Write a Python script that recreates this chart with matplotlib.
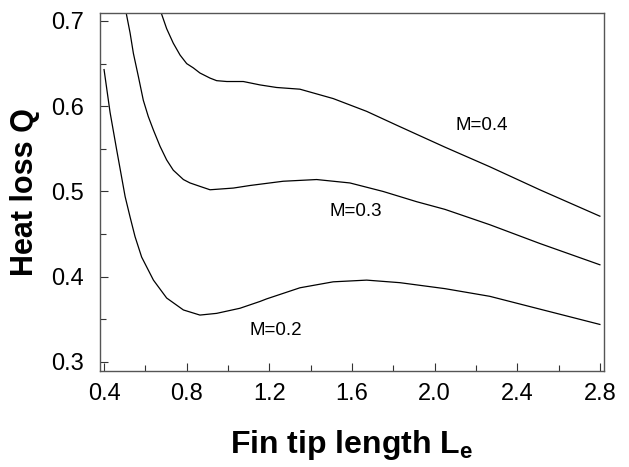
import matplotlib
matplotlib.use("Agg")
import matplotlib.pyplot as plt
from matplotlib.ticker import MultipleLocator

plt.rcParams['font.family'] = ['Liberation Sans', 'DejaVu Sans']
plt.rcParams['mathtext.fontset'] = 'custom'
plt.rcParams['mathtext.rm'] = 'Liberation Sans'
plt.rcParams['mathtext.bf'] = 'Liberation Sans:bold'

# curve data
x_m02 = [0.400, 0.429, 0.461, 0.502, 0.526, 0.550, 0.582, 0.639, 0.703, 0.784,
         0.864, 0.945, 1.058, 1.155, 1.187, 1.348, 1.509, 1.671, 1.832, 2.050,
         2.267, 2.509, 2.800]
q_m02 = [0.643, 0.593, 0.549, 0.494, 0.470, 0.447, 0.423, 0.396, 0.375, 0.361,
         0.355, 0.357, 0.363, 0.371, 0.374, 0.387, 0.394, 0.396, 0.393, 0.386,
         0.377, 0.362, 0.344]

x_m03 = [0.505, 0.526, 0.542, 0.566, 0.590, 0.614, 0.639, 0.671, 0.703, 0.735,
         0.784, 0.816, 0.864, 0.913, 1.026, 1.106, 1.267, 1.429, 1.590, 1.751,
         1.913, 2.050, 2.267, 2.509, 2.800]
q_m03 = [0.712, 0.686, 0.662, 0.635, 0.607, 0.588, 0.572, 0.553, 0.537, 0.525,
         0.514, 0.510, 0.506, 0.502, 0.504, 0.507, 0.512, 0.514, 0.510, 0.500,
         0.488, 0.479, 0.461, 0.439, 0.414]

x_m04 = [0.673, 0.703, 0.735, 0.768, 0.800, 0.832, 0.864, 0.913, 0.945, 0.994,
         1.074, 1.155, 1.235, 1.348, 1.509, 1.671, 1.832, 2.050, 2.267, 2.509,
         2.800]
q_m04 = [0.712, 0.691, 0.674, 0.660, 0.650, 0.645, 0.639, 0.633, 0.630, 0.629,
         0.629, 0.625, 0.622, 0.620, 0.609, 0.594, 0.576, 0.552, 0.529, 0.502,
         0.471]

labels = ['M=0.2', 'M=0.3', 'M=0.4']
label_x = [1.23, 1.62, 2.23]
label_q = [0.337, 0.476, 0.577]

fig = plt.figure(figsize=(6.29, 4.67), dpi=100)
ax = fig.add_axes([0.1582, 0.2056, 0.8021, 0.7666])

for xs, qs in [(x_m02, q_m02), (x_m03, q_m03), (x_m04, q_m04)]:
    ax.plot(xs, qs, color='black', linewidth=0.9)

for t, lx, ly in zip(labels, label_x, label_q):
    ax.text(lx, ly, t, fontsize=13.5, ha='center', va='center')

ax.set_xlim(0.378, 2.82)
ax.set_ylim(0.2894, 0.7094)
ax.xaxis.set_minor_locator(MultipleLocator(0.2))
ax.yaxis.set_minor_locator(MultipleLocator(0.05))
ax.set_xticks([0.4, 0.8, 1.2, 1.6, 2.0, 2.4, 2.8])
ax.set_xticklabels(['0.4', '0.8', '1.2', '1.6', '2.0', '2.4', '2.8'])
ax.set_yticks([0.3, 0.4, 0.5, 0.6, 0.7])
ax.set_yticklabels(['0.3', '0.4', '0.5', '0.6', '0.7'])

ax.tick_params(which='both', direction='in', top=False, right=False,
               color='#333333', width=0.8)
ax.tick_params(which='major', length=6, labelsize=17)
ax.tick_params(which='minor', length=4)
ax.tick_params(axis='x', which='major', pad=9)
ax.tick_params(axis='y', which='major', pad=11)

for sp in ax.spines.values():
    sp.set_color('#555555')
    sp.set_linewidth(1.0)

ax.set_xlabel(r'Fin tip length L$_\mathbf{e}$', fontsize=23, fontweight='bold', labelpad=16)
ax.set_ylabel('Heat loss Q', fontsize=22, fontweight='bold', labelpad=8)

fig.savefig('out.png', dpi=100)
